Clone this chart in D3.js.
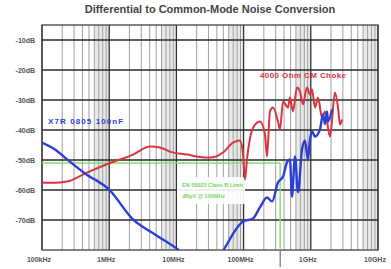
<!DOCTYPE html>
<html>
<head>
<meta charset="utf-8">
<script src="https://cdn.jsdelivr.net/npm/d3@7"></script>
<style>
  body { margin: 0; background: #fff; }
  svg { display: block; font-family: "Liberation Sans", Arial, sans-serif; }
</style>
</head>
<body>
<svg id="chart" width="391" height="269"></svg>
<script>

// DATA -----------------------------------------------------------------------

var yTicks = [-10, -20, -30, -40, -50, -60, -70];
var yTickLabels = ["-10dB", "-20dB", "-30dB", "-40dB", "-50dB", "-60dB", "-70dB"];
var xTicksMHz = [0.1, 1, 10, 100, 1000, 10000];
var xTickLabels = ["100kHz", "1MHz", "10MHz", "100MHz", "1GHz", "10GHz"];

// 4000 Ohm CM choke (frequency in MHz, level in dB)
var chokeMHz = [0.1, 0.15, 0.236, 0.467, 1.03, 2.26, 4.05, 5.7, 8.0, 14.4, 22.4, 31.6,
                49.4, 69.5, 88, 97, 105, 112, 124, 148, 175, 208, 223, 247, 274, 325,
                348, 386, 458, 490, 543, 623, 690, 766, 877, 973, 1042, 1155, 1280,
                1468, 1626, 1931, 2291, 2541, 2721, 2912];
var chokeDb  = [-57.5, -57.6, -57.2, -54.2, -51, -48.2, -45.5, -45.8, -47.2, -48.2, -49, -49.2,
                -47.5, -44.2, -43.5, -47, -56.5, -50, -43, -38.2, -37.2, -41.5, -48.8, -33.8, -32.5, -37.2,
                -39.8, -30.5, -32.5, -29.2, -33.8, -25.8, -27.2, -31.5, -25.8, -28.2, -26.5, -32.5, -29.2,
                -35.8, -33.8, -42.2, -27.5, -32.5, -38.2, -36.5];

// X7R 0805 100nF capacitor
var capMHz = [0.1, 0.156, 0.236, 0.436, 0.99, 2.26, 4.8, 10.1, 14, 40, 52.8, 98, 138, 175,
              223, 265, 325, 386, 442, 490, 525, 582, 645, 740, 820, 903, 973, 1042, 1155,
              1370, 1520, 1626, 1742, 1803, 2068];
var capDb  = [-44.2, -46.5, -49.8, -54.5, -59.8, -69.8, -74.8, -79.5, -82, -84, -79.2, -70.5, -69.5, -65.8,
              -62.5, -63.8, -57.5, -55.5, -50.8, -49.8, -62.2, -48.8, -60.8, -46.5, -43.5, -50, -43.2, -40.5, -42.2,
              -39.8, -34.8, -38, -33.8, -37.2, -33.2];

// limit marker (green)
var limitDb = -51;
var limitMHz = 350;


// LAYOUT ---------------------------------------------------------------------

var svg = d3.select("#chart");
var plot = { left: 42, right: 378, top: 25, bottom: 250 };

var x = d3.scaleLog().domain([0.1, 10000]).range([plot.left, plot.right]);
var y = d3.scaleLinear().domain([-80, -5]).range([plot.bottom, plot.top]);

svg.append("defs").append("clipPath").attr("id", "clip")
   .append("rect")
   .attr("x", plot.left).attr("y", plot.top)
   .attr("width", plot.right - plot.left).attr("height", plot.bottom - plot.top);

// title
svg.append("text")
   .attr("x", 210).attr("y", 13)
   .attr("text-anchor", "middle")
   .attr("font-size", 11).attr("font-weight", "bold")
   .attr("fill", "#444")
   .text("Differential to Common-Mode Noise Conversion");


// GRID -----------------------------------------------------------------------

var grid = svg.append("g");

// light shading at the dense end of every decade
for (var d = 0; d < 5; d++) {
    var base = xTicksMHz[d];
    grid.append("rect")
        .attr("x", x(base * 6)).attr("y", plot.top)
        .attr("width", x(base * 10) - x(base * 6))
        .attr("height", plot.bottom - plot.top)
        .attr("fill", "#e9e9e9");
}

// minor vertical lines
var minors = [];
for (var d = 0; d < 5; d++)
    for (var m = 2; m <= 9; m++) minors.push(xTicksMHz[d] * m);

grid.selectAll(".minor").data(minors).enter()
    .append("line")
    .attr("class", "minor")
    .attr("x1", function(v) { return x(v); })
    .attr("x2", function(v) { return x(v); })
    .attr("y1", plot.top).attr("y2", plot.bottom)
    .attr("stroke", "#a0a0a0").attr("stroke-width", 1);

// major vertical lines
grid.selectAll(".majorX").data(xTicksMHz).enter()
    .append("line")
    .attr("x1", function(v) { return x(v); })
    .attr("x2", function(v) { return x(v); })
    .attr("y1", plot.top).attr("y2", plot.bottom)
    .attr("stroke", "#333").attr("stroke-width", 1.3);

// major horizontal lines
grid.selectAll(".majorY").data(yTicks).enter()
    .append("line")
    .attr("x1", plot.left).attr("x2", plot.right)
    .attr("y1", function(v) { return y(v); })
    .attr("y2", function(v) { return y(v); })
    .attr("stroke", "#2a2a2a").attr("stroke-width", 1.4);

grid.append("rect")
    .attr("x", plot.left).attr("y", plot.top)
    .attr("width", plot.right - plot.left).attr("height", plot.bottom - plot.top)
    .attr("fill", "none").attr("stroke", "#444").attr("stroke-width", 1.3);


// AXIS LABELS ----------------------------------------------------------------

svg.selectAll(".ylab").data(yTicks).enter()
   .append("text")
   .attr("x", 35)
   .attr("y", function(v) { return y(v); })
   .attr("dy", "0.38em")
   .attr("text-anchor", "end")
   .attr("font-size", 7).attr("font-weight", "bold")
   .attr("fill", "#555")
   .text(function(v, i) { return yTickLabels[i]; });

svg.selectAll(".xlab").data(xTicksMHz).enter()
   .append("text")
   .attr("x", function(v) { return x(v) - 3; })
   .attr("y", 262)
   .attr("text-anchor", "middle")
   .attr("font-size", 7).attr("font-weight", "bold")
   .attr("fill", "#555")
   .text(function(v, i) { return xTickLabels[i]; });


// LIMIT MARKER ---------------------------------------------------------------

svg.append("line")
   .attr("x1", plot.left).attr("x2", x(limitMHz))
   .attr("y1", y(limitDb)).attr("y2", y(limitDb))
   .attr("stroke", "#7ee06a").attr("stroke-width", 1.6);
svg.append("line")
   .attr("x1", x(limitMHz)).attr("x2", x(limitMHz))
   .attr("y1", y(limitDb)).attr("y2", plot.bottom)
   .attr("stroke", "#7ee06a").attr("stroke-width", 1.4);
svg.append("line")
   .attr("x1", x(limitMHz)).attr("x2", x(limitMHz))
   .attr("y1", plot.bottom).attr("y2", 267)
   .attr("stroke", "#555").attr("stroke-width", 1);

svg.append("rect")
   .attr("x", 177).attr("y", 177).attr("width", 68).attr("height", 27)
   .attr("fill", "#fff").attr("opacity", 0.9);
svg.append("text")
   .attr("x", 182).attr("y", 187)
   .attr("font-size", 5.5).attr("font-weight", "bold").attr("fill", "#6fd85c")
   .text("EN 55022 Class B Limit");
svg.append("text")
   .attr("x", 182).attr("y", 198)
   .attr("font-size", 5.5).attr("font-weight", "bold").attr("fill", "#6fd85c")
   .text("dBµV @ 100MHz");


// CURVES ---------------------------------------------------------------------

var line = d3.line()
    .x(function(d) { return x(d[0]); })
    .y(function(d) { return y(d[1]); })
    .curve(d3.curveMonotoneX);

var curves = svg.append("g").attr("clip-path", "url(#clip)");

curves.append("path")
    .datum(d3.zip(chokeMHz, chokeDb))
    .attr("d", line)
    .attr("fill", "none")
    .attr("stroke", "#d8343f").attr("stroke-width", 2)
    .attr("stroke-linejoin", "round");

curves.append("path")
    .datum(d3.zip(capMHz, capDb))
    .attr("d", line)
    .attr("fill", "none")
    .attr("stroke", "#2b3fd4").attr("stroke-width", 2.4)
    .attr("stroke-linejoin", "round");

// series labels
svg.append("text")
   .attr("x", 48).attr("y", 124)
   .attr("font-size", 8).attr("font-weight", "bold").attr("fill", "#2b3fd4")
   .attr("letter-spacing", 1.1)
   .text("X7R 0805 100nF");

svg.append("text")
   .attr("x", 260).attr("y", 78)
   .attr("font-size", 8).attr("font-weight", "bold").attr("fill", "#d8343f")
   .attr("letter-spacing", 0.4)
   .text("4000 Ohm CM Choke");

</script>
</body>
</html>
